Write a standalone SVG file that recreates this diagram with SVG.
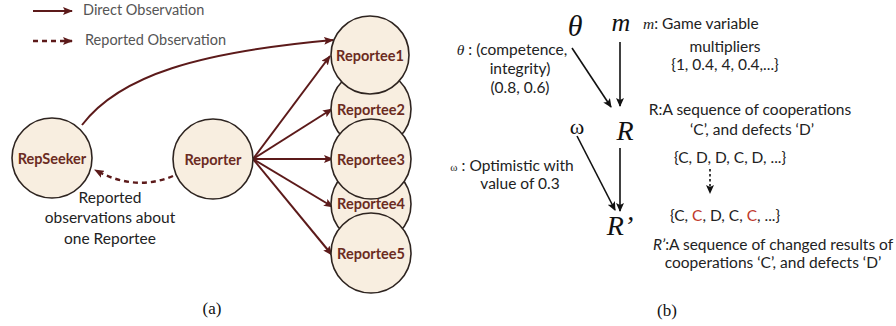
<svg xmlns="http://www.w3.org/2000/svg" width="896" height="326" viewBox="0 0 896 326">
<defs>
<marker id="mh" markerWidth="10" markerHeight="8" refX="9" refY="4" orient="auto" markerUnits="userSpaceOnUse">
<path d="M0,0 L10,4 L0,8 L2,4 Z" fill="#5c1a1a"/>
</marker>
<marker id="kh" markerWidth="9" markerHeight="8" refX="8" refY="4" orient="auto" markerUnits="userSpaceOnUse">
<path d="M0,0 L9,4 L0,8 L2,4 Z" fill="#111"/>
</marker>
<style>
.node circle{fill:#f8eee0;stroke:#2e2420;stroke-width:1.6}
.nt{font-family:Lato,"Liberation Sans",sans-serif;font-weight:bold;font-size:14.5px;fill:#6b2b22;text-anchor:middle;dominant-baseline:central}
.dir{stroke:#5c1a1a;stroke-width:2;fill:none;marker-end:url(#mh)}
.rep{stroke:#5c1a1a;stroke-width:2.4;fill:none;stroke-dasharray:5 4;marker-end:url(#mh)}
.blk{stroke:#111;stroke-width:1.6;fill:none;marker-end:url(#kh)}
.t{font-family:Lato,"Liberation Sans",sans-serif;font-size:15.5px;fill:#222;text-anchor:middle}
.lg{font-family:Lato,"Liberation Sans",sans-serif;font-size:14.5px;fill:#555;dominant-baseline:central}
.big{font-family:"Liberation Serif",serif;font-style:italic;fill:#111;text-anchor:middle}
.cap{font-family:"Liberation Serif",serif;font-size:17px;fill:#111;text-anchor:middle}
</style>
</defs>

<g id="legend">
<line class="dir" x1="33" y1="11" x2="72" y2="11"/>
<text class="lg" x="83" y="9">Direct Observation</text>
<line class="rep" x1="33" y1="41" x2="72" y2="41"/>
<text class="lg" x="85" y="39">Reported Observation</text>
</g>

<g id="connectors">
<path class="dir" d="M82,125 C120,75 200,52 333,40"/>
<path class="rep" d="M173,176 Q135,192 95,170"/>
<line class="dir" x1="253" y1="159" x2="330" y2="56"/>
<line class="dir" x1="253" y1="159" x2="332" y2="109"/>
<line class="dir" x1="253" y1="159" x2="333" y2="159"/>
<line class="dir" x1="253" y1="159" x2="333" y2="207"/>
<line class="dir" x1="253" y1="159" x2="332" y2="255"/>
</g>

<g id="RepSeeker" class="node"><circle cx="52" cy="158" r="40"/><text class="nt" x="52" y="158">RepSeeker</text></g>
<g id="Reporter" class="node"><circle cx="213" cy="159" r="40"/><text class="nt" x="213" y="159">Reporter</text></g>
<g id="Reportee2" class="node"><circle cx="371" cy="109" r="40"/><text class="nt" x="371" y="109">Reportee2</text></g>
<g id="Reportee4" class="node"><circle cx="371" cy="204" r="40"/><text class="nt" x="371" y="203">Reportee4</text></g>
<g id="Reportee1" class="node"><circle cx="370" cy="55" r="39"/><text class="nt" x="370" y="55">Reportee1</text></g>
<g id="Reportee3" class="node"><circle cx="371" cy="159" r="40"/><text class="nt" x="371" y="159">Reportee3</text></g>
<g id="Reportee5" class="node"><circle cx="371" cy="253" r="40"/><text class="nt" x="371" y="253">Reportee5</text></g>

<g id="reported-label">
<text class="t" x="110" y="203">Reported</text>
<text class="t" x="110" y="223">observations about</text>
<text class="t" x="110" y="244">one Reportee</text>
</g>

<text class="cap" x="212" y="314">(a)</text>

<g id="theta"><text class="big" x="575" y="36" font-size="30">θ</text></g>
<g id="m"><text class="big" x="621" y="31" font-size="26">m</text></g>
<g id="R"><text class="big" x="625" y="140" font-size="28">R</text></g>
<g id="omega"><text class="big" x="577" y="134" style="font-size:22px;font-style:normal">ω</text></g>
<g id="Rprime"><text class="big" x="620" y="235" font-size="28">R’</text></g>

<g id="connectors-b">
<line class="blk" x1="572" y1="48" x2="611" y2="107"/>
<line class="blk" x1="620" y1="42" x2="620" y2="106"/>
<line class="blk" x1="577" y1="136" x2="615" y2="210"/>
<line class="blk" x1="620" y1="148" x2="620" y2="211"/>
<line class="blk" x1="710" y1="169" x2="710" y2="193" stroke-dasharray="2.5 2.5"/>
</g>

<g id="labels-b">
<text class="t" x="512" y="55"><tspan font-family="Liberation Serif,serif" font-style="italic">θ</tspan> : (competence,</text>
<text class="t" x="520" y="74">integrity)</text>
<text class="t" x="520" y="93">(0.8, 0.6)</text>
<text class="t" x="643" y="29" style="text-anchor:start"><tspan font-family="Liberation Serif,serif" font-style="italic">m</tspan>: Game variable</text>
<text class="t" x="725" y="52">multipliers</text>
<text class="t" x="725" y="70">{1, 0.4, 4, 0.4,...}</text>
<text class="t" x="750" y="115">R:A sequence of cooperations</text>
<text class="t" x="752" y="135">‘C’, and defects ‘D’</text>
<text class="t" x="512" y="171"><tspan font-family="Liberation Serif,serif" font-size="11">ω</tspan> : Optimistic with</text>
<text class="t" x="520" y="189">value of 0.3</text>
<text class="t" x="730" y="163">{C, D, D, C, D, ...}</text>
<text class="t" x="725" y="221">{C, <tspan fill="#c0392b">C</tspan>, D, C, <tspan fill="#c0392b">C</tspan>, ...}</text>
<text class="t" x="773" y="250"><tspan font-style="italic">R’</tspan>:A sequence of changed results of</text>
<text class="t" x="773" y="268">cooperations ‘C’, and defects ‘D’</text>
</g>

<text class="cap" x="667" y="316">(b)</text>
</svg>
